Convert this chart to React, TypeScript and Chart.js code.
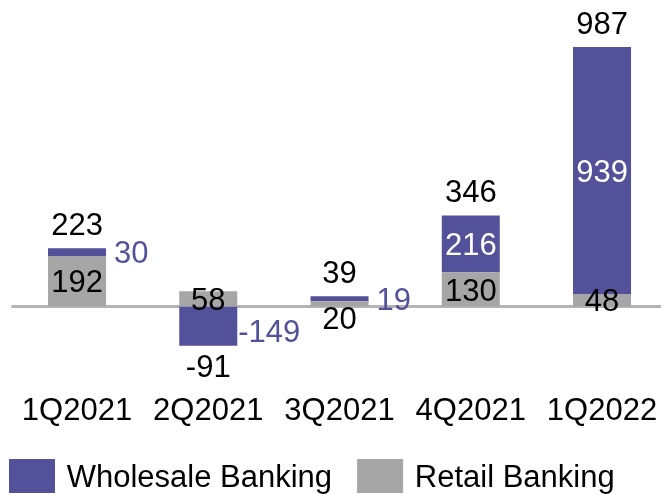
import React, { useEffect, useRef } from "react";
import { Chart, registerables } from "chart.js";

Chart.register(...registerables);

// ---- data ----
const categories = ["1Q2021", "2Q2021", "3Q2021", "4Q2021", "1Q2022"];
const retailBanking = [192, 58, 20, 130, 48];
const wholesaleBanking = [30, -149, 19, 216, 939];
const totals = [223, -91, 39, 346, 987];
const seriesNames = ["Wholesale Banking", "Retail Banking"];

// ---- styles ----
const PURPLE = "#525199";
const GRAY = "#a6a6a6";
const LINE = "#b4b4b4";
const FONT = "'Liberation Sans', Arial, sans-serif";
const FS = 31;
const CAP = FS * 0.716;
const CANVAS_W = 680;
const CANVAS_H = 494;

const labelsPlugin = {
  id: "customLabels",
  beforeDatasetsDraw(chart: any) {
    const { ctx, chartArea, scales } = chart;
    const y0 = scales.y.getPixelForValue(0);
    ctx.save();
    ctx.strokeStyle = LINE;
    ctx.lineWidth = 3;
    ctx.beginPath();
    ctx.moveTo(chartArea.left, y0);
    ctx.lineTo(chartArea.right, y0);
    ctx.stroke();
    ctx.restore();
  },
  afterDatasetsDraw(chart: any) {
    const { ctx, scales } = chart;
    const yS = scales.y;
    const y0 = yS.getPixelForValue(0);
    const metaR = chart.getDatasetMeta(0);
    const metaW = chart.getDatasetMeta(1);
    ctx.save();
    ctx.font = `${FS}px ${FONT}`;
    ctx.textBaseline = "alphabetic";
    categories.forEach((_, i) => {
      const r = metaR.data[i].getProps(["x", "y", "base", "width"], true);
      const w = metaW.data[i].getProps(["x", "y", "base", "width"], true);
      // retail label
      {
        const top = Math.min(r.y, r.base);
        const bot = Math.max(r.y, r.base);
        const h = bot - top;
        const c = h < 10 ? y0 + 11.5 : (top + bot) / 2;
        ctx.fillStyle = "#000";
        ctx.textAlign = "center";
        ctx.fillText(String(retailBanking[i]), r.x, c + CAP / 2);
      }
      // wholesale label
      {
        const v = wholesaleBanking[i];
        const top = Math.min(w.y, w.base);
        const bot = Math.max(w.y, w.base);
        const h = bot - top;
        const c = (top + bot) / 2;
        if (h >= 40) {
          ctx.fillStyle = "#ffffff";
          ctx.textAlign = "center";
          ctx.fillText(String(v), w.x, c + CAP / 2);
        } else {
          ctx.fillStyle = PURPLE;
          ctx.textAlign = "left";
          const x = w.x + w.width / 2 + (v < 0 ? 1 : 8);
          ctx.fillText(String(v), x, c + (v < 0 ? 5 : 0) + CAP / 2);
        }
      }
      // total label
      {
        const pos = (retailBanking[i] > 0 ? retailBanking[i] : 0) + (wholesaleBanking[i] > 0 ? wholesaleBanking[i] : 0);
        const neg = (retailBanking[i] < 0 ? retailBanking[i] : 0) + (wholesaleBanking[i] < 0 ? wholesaleBanking[i] : 0);
        ctx.fillStyle = "#000";
        ctx.textAlign = "center";
        if (totals[i] >= 0) {
          const topPix = yS.getPixelForValue(pos);
          ctx.fillText(String(totals[i]), r.x, topPix - 13.5);
        } else {
          const botPix = yS.getPixelForValue(neg);
          ctx.fillText(String(totals[i]), r.x, botPix + 9.5 + CAP);
        }
      }
    });
    ctx.restore();
  },
  afterDraw(chart: any) {
    const { ctx } = chart;
    const items = [
      { label: seriesNames[0], color: PURPLE },
      { label: seriesNames[1], color: GRAY },
    ];
    ctx.save();
    ctx.font = `${FS}px ${FONT}`;
    ctx.textBaseline = "alphabetic";
    ctx.textAlign = "left";
    let x = 9;
    const boxTop = chart.height - 35;
    const boxW = 46;
    const boxH = 34;
    items.forEach((it) => {
      ctx.fillStyle = it.color;
      ctx.fillRect(x, boxTop, boxW, boxH);
      const tx = x + boxW + 11.7;
      ctx.fillStyle = "#000";
      ctx.fillText(it.label, tx, boxTop + boxH / 2 + CAP / 2);
      x = tx + ctx.measureText(it.label).width + 25;
    });
    ctx.restore();
  },
};

export default function App() {
  const ref = useRef<HTMLCanvasElement | null>(null);
  useEffect(() => {
    if (!ref.current) return;
    const chart = new Chart(ref.current, {
      type: "bar",
      data: {
        labels: categories,
        datasets: [
          {
            label: seriesNames[1],
            data: retailBanking,
            backgroundColor: GRAY,
            borderWidth: 0,
            barPercentage: 0.442,
            categoryPercentage: 1,
          },
          {
            label: seriesNames[0],
            data: wholesaleBanking,
            backgroundColor: PURPLE,
            borderWidth: 0,
            barPercentage: 0.442,
            categoryPercentage: 1,
          },
        ],
      },
      options: {
        animation: false,
        responsive: false,
        devicePixelRatio: 1,
        layout: {
          padding: { left: 11.4, right: CANVAS_W - 667.65, top: 43.6, bottom: CANVAS_H - 385.4 - 60 },
        },
        plugins: {
          legend: { display: false },
          tooltip: { enabled: false },
        },
        scales: {
          x: {
            stacked: true,
            grid: { display: false, drawTicks: false },
            border: { display: false },
            ticks: {
              font: { size: FS, family: FONT },
              color: "#000",
              padding: 7.5,
              autoSkip: false,
              maxRotation: 0,
            },
            afterFit(s: any) {
              s.height = 60;
            },
          },
          y: {
            stacked: true,
            display: false,
            min: -300,
            max: 1000,
          },
        },
      },
      plugins: [labelsPlugin],
    } as any);
    return () => chart.destroy();
  }, []);
  return (
    <div style={{ position: "fixed", left: 0, top: 0, width: 661, height: 494, overflow: "hidden", background: "#fff" }}>
      <canvas ref={ref} width={CANVAS_W} height={CANVAS_H} style={{ display: "block", width: CANVAS_W, height: CANVAS_H }} />
    </div>
  );
}
